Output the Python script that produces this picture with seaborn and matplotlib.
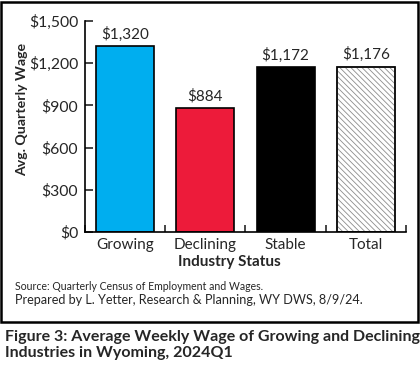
import seaborn as sns
import matplotlib.pyplot as plt
import pandas as pd
from matplotlib.patches import Rectangle
from matplotlib.ticker import FuncFormatter, FixedLocator

categorias = ['Growing', 'Declining', 'Stable', 'Total']
salarios = [1320, 884, 1172, 1176]
colores = ['#00AEEF', '#ED1B3A', '#000000', '#FFFFFF']
etiquetas = ['$1,320', '$884', '$1,172', '$1,176']

df = pd.DataFrame({'status': categorias, 'wage': salarios})

sns.set_style('white')
plt.rcParams['font.family'] = ['Lato', 'DejaVu Sans']
plt.rcParams['hatch.linewidth'] = 0.6
plt.rcParams['hatch.color'] = '#8c8c8c'

fig = plt.figure(figsize=(4.2, 3.66), dpi=100)
ax = fig.add_axes([85 / 420, 1 - 232 / 366, 321 / 420, 211 / 366])

sns.barplot(data=df, x='status', y='wage', hue='status', palette=colores,
            saturation=1, width=0.72, edgecolor='black', linewidth=1.2,
            legend=False, ax=ax)

# barra total con rayado gris
total = ax.patches[3]
total.set_hatch('\\\\\\\\\\\\')
total.set_edgecolor('#8c8c8c')
ax.add_patch(Rectangle(total.get_xy(), total.get_width(), total.get_height(),
                       fill=False, edgecolor='black', linewidth=1.2, zorder=3))

for p, txt in zip(ax.patches[:4], etiquetas):
    ax.text(p.get_x() + p.get_width() / 2, p.get_height() + 30, txt,
            ha='center', va='bottom', fontsize=11)

ax.set_ylim(0, 1500)
ax.set_xlim(-0.5, 3.5)
ax.set_yticks([0, 300, 600, 900, 1200, 1500])
ax.yaxis.set_major_formatter(FuncFormatter(lambda v, _: f'${v:,.0f}'))
ax.xaxis.set_major_locator(FixedLocator([0, 1, 2, 3]))
ax.xaxis.set_minor_locator(FixedLocator([-0.5, 0.5, 1.5, 2.5, 3.5]))
ax.tick_params(axis='x', which='major', length=0, labelsize=11, pad=4)
ax.tick_params(axis='x', which='minor', length=5, width=1.2, direction='in', bottom=True)
ax.tick_params(axis='y', length=6, width=1.2, direction='in', left=True, labelsize=11.3, pad=5)

sns.despine(ax=ax)
for s in ['left', 'bottom']:
    ax.spines[s].set_linewidth(1.2)
    ax.spines[s].set_color('black')

ax.set_xlabel('Industry Status', fontsize=11, fontweight='bold')
ax.set_ylabel('Avg. Quarterly Wage', fontsize=10.2, fontweight='bold')
ax.xaxis.set_label_coords((229.5 - 85) / 321, (232 - 262) / 211)
ax.yaxis.set_label_coords((22 - 85) / 321, (232 - 109) / 211)
ax.xaxis.label.set_va('center')
ax.yaxis.label.set_va('center')

fig.text(15 / 420, 1 - 286 / 366, 'Source: Quarterly Census of Employment and Wages.',
         fontsize=7.6, va='center')
fig.text(15 / 420, 1 - 300 / 366, 'Prepared by L. Yetter, Research & Planning, WY DWS, 8/9/24.',
         fontsize=9.1, va='center')

# marco alrededor del grafico
fig.add_artist(Rectangle((1 / 420, 1 - 322 / 366), 417 / 420, 320 / 366,
                         transform=fig.transFigure, fill=False,
                         edgecolor='black', linewidth=1.8))

fig.text(5 / 420, 1 - 337 / 366, 'Figure 3: Average Weekly Wage of Growing and Declining',
         fontsize=11.5, fontweight='bold', va='center')
fig.text(5 / 420, 1 - 353 / 366, 'Industries in Wyoming, 2024Q1',
         fontsize=11.5, fontweight='bold', va='center')

fig.savefig('out.png', dpi=100)
